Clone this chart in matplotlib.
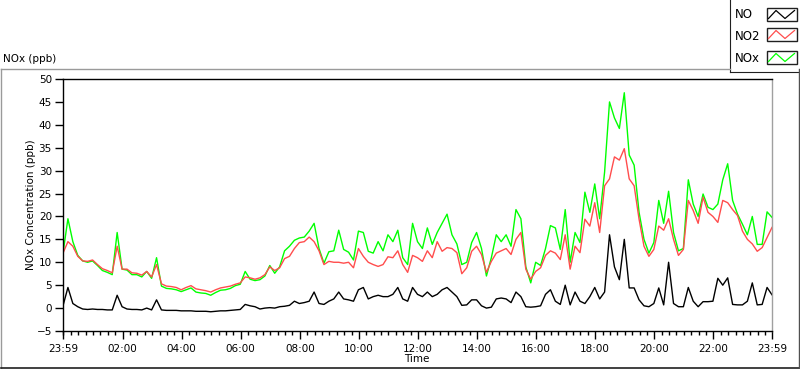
import numpy as np
import matplotlib
matplotlib.use('Agg')
import matplotlib.pyplot as plt
from matplotlib.patches import Rectangle
from matplotlib.lines import Line2D

# ---- data (10-minute samples from 23:59 to 23:59) ----
no2 = [12.0, 14.5, 13.5, 11.3, 10.3, 10.2, 10.5, 9.5, 8.6, 8.2,
       7.7, 13.5, 8.5, 8.5, 7.7, 7.6, 7.2, 8.0, 6.8, 9.5,
       5.3, 4.8, 4.7, 4.5, 4.0, 4.5, 4.9, 4.2, 4.0, 3.8,
       3.5, 4.0, 4.4, 4.6, 4.8, 5.2, 5.5, 6.8, 6.6, 6.3,
       6.6, 7.3, 9.0, 8.2, 8.8, 10.8, 11.3, 13.0, 14.3, 14.5,
       15.5, 14.5, 12.5, 9.5, 10.2, 10.0, 10.0, 9.8, 10.0, 8.8,
       13.0, 11.3, 10.0, 9.5, 9.1, 9.5, 11.2, 11.0, 12.5, 9.5,
       7.8, 11.5, 11.0, 10.2, 12.5, 11.0, 14.5, 12.4, 13.2, 13.0,
       12.1, 7.5, 8.8, 12.4, 13.5, 11.7, 7.8, 10.2, 12.0, 12.5,
       13.0, 11.7, 15.0, 16.5, 8.5, 6.3, 8.0, 8.8, 11.5, 12.5,
       12.0, 10.6, 16.0, 8.5, 13.5, 12.1, 19.4, 17.9, 23.0, 16.5,
       26.7, 28.2, 33.0, 32.3, 34.8, 28.2, 26.7, 19.4, 13.5, 11.3,
       12.8, 17.9, 17.0, 19.5, 15.0, 11.5, 12.8, 23.5, 21.3, 18.5,
       24.2, 20.9, 20.0, 18.7, 23.5, 23.0, 21.5, 20.2, 16.8, 15.0,
       14.0, 12.4, 13.2, 15.4, 17.6]

nox = [12.0, 19.5, 14.5, 11.5, 10.3, 10.0, 10.3, 9.3, 8.2, 7.8,
       7.3, 16.5, 8.5, 8.3, 7.3, 7.3, 6.8, 8.0, 6.5, 11.0,
       4.8, 4.3, 4.2, 4.0, 3.6, 4.0, 4.4, 3.5, 3.3, 3.2,
       2.8, 3.4, 3.9, 4.0, 4.3, 4.9, 5.2, 8.0, 6.3, 6.0,
       6.2, 7.0, 9.3, 7.6, 9.0, 12.5, 13.5, 14.8, 15.3, 15.5,
       16.8, 18.5, 13.0, 9.8, 12.3, 12.5, 17.0, 12.8, 12.2, 10.5,
       16.8, 16.5, 12.4, 12.0, 14.5, 12.5, 16.0, 14.5, 17.0, 11.0,
       9.5, 18.5, 14.5, 13.0, 17.5, 13.9, 16.5, 18.5, 20.5, 16.0,
       14.0, 9.5, 10.0, 14.3, 16.5, 13.0, 7.0, 11.0, 16.0, 14.5,
       16.0, 13.5, 21.5, 19.5, 9.0, 5.5, 10.0, 9.3, 13.0, 18.0,
       17.5, 12.8, 21.5, 10.0, 16.5, 14.3, 25.3, 20.9, 27.1, 19.5,
       29.7, 45.0, 41.5, 39.2, 47.0, 33.4, 31.2, 20.9, 15.0, 12.0,
       14.3, 23.5, 18.5, 25.5, 16.5, 12.5, 13.0, 28.0, 22.7, 20.0,
       24.9, 22.0, 21.5, 22.7, 28.0, 31.5, 23.5, 20.5, 18.3, 16.0,
       20.0, 13.9, 13.9, 21.0, 19.8]

no = [0.5, 4.5, 1.0, 0.3, -0.2, -0.3, -0.2, -0.3, -0.3, -0.4,
      -0.4, 2.8, 0.3, -0.2, -0.3, -0.3, -0.4, 0.0, -0.4, 1.8,
      -0.4, -0.5, -0.5, -0.5, -0.6, -0.6, -0.6, -0.7, -0.7, -0.7,
      -0.8, -0.7, -0.6, -0.6, -0.5, -0.4, -0.3, 0.8, 0.5, 0.3,
      -0.2, 0.0, 0.1, 0.0, 0.3, 0.4, 0.6, 1.5, 1.0, 1.2,
      1.5, 3.5, 1.0, 0.8, 1.5, 2.0, 3.5, 2.0, 1.8, 1.5,
      4.0, 4.5, 2.0, 2.5, 2.8, 2.5, 2.5, 3.0, 4.5, 2.0,
      1.5, 4.5, 3.0, 2.5, 3.5, 2.5, 3.0, 4.0, 4.5, 3.5,
      2.5, 0.6, 0.7, 1.8, 1.8, 0.5, 0.0, 0.2, 2.0, 2.2,
      2.0, 1.2, 3.5, 2.5, 0.3, 0.2, 0.3, 0.5, 3.0, 4.0,
      1.5, 0.8, 5.0, 0.7, 3.5, 1.5, 1.0, 2.5, 4.5, 2.0,
      3.5, 16.0, 9.0, 6.2, 15.0, 4.4, 4.4, 1.8, 0.5, 0.3,
      1.0, 4.4, 0.7, 10.0, 1.0, 0.3, 0.3, 4.5, 1.5, 0.3,
      1.4, 1.4, 1.5, 6.5, 5.0, 6.6, 0.8, 0.7, 0.7, 1.5,
      5.5, 0.7, 0.8, 4.5, 2.9]

series_names = ['NO', 'NO2', 'NOx']
series_colors = ['black', '#ff4d4d', '#00ff00']
tick_labels = ['23:59', '02:00', '04:00', '06:00', '08:00', '10:00', '12:00',
               '14:00', '16:00', '18:00', '20:00', '22:00', '23:59']
tick_minutes = [0, 121, 241, 361, 481, 601, 721, 841, 961, 1081, 1201, 1321, 1440]
sample_step_min = 10

plt.rcParams['font.family'] = ['DejaVu Sans']

W, H = 800, 369
fig = plt.figure(figsize=(W / 100, H / 100), dpi=100)
fig.patch.set_facecolor('white')


def fx(px):
    return px / W


def fy(py):
    return 1 - py / H


# outer panel frame
fig.add_artist(Line2D([fx(0.5), fx(730)], [fy(69), fy(69)], color='#9a9a9a', lw=1.0))
fig.add_artist(Line2D([fx(0.8), fx(0.8)], [fy(69), fy(368)], color='#9a9a9a', lw=1.0))
fig.add_artist(Line2D([fx(0.5), fx(798.5)], [fy(368), fy(368)], color='#202020', lw=1.2))
fig.add_artist(Line2D([fx(798.5), fx(798.5)], [fy(69), fy(368)], color='#505050', lw=1.0))

# main plot
ax = fig.add_axes([fx(63), fy(331), fx(772) - fx(63), fy(79) - fy(331)])
t = np.arange(len(no2)) * sample_step_min
ax.plot(t, nox, color=series_colors[2], lw=1.0)
ax.plot(t, no2, color=series_colors[1], lw=1.0)
ax.plot(t, no, color=series_colors[0], lw=1.0)

ax.set_xlim(0, 1440)
ax.set_ylim(-5, 50)
ax.set_yticks(np.arange(-5, 51, 5))
ax.set_xticks(tick_minutes)
ax.set_xticklabels(tick_labels)
minor = [m for m in range(1, 1440, 15) if m not in tick_minutes]
ax.set_xticks(minor, minor=True)
ax.tick_params(axis='both', which='major', direction='out', length=6, width=1,
               labelsize=7.5, pad=2, colors='black')
ax.tick_params(axis='x', which='minor', direction='out', length=3, width=1)
ax.tick_params(axis='x', which='major', pad=3)
for s in ['left', 'top', 'bottom']:
    ax.spines[s].set_color('black')
    ax.spines[s].set_linewidth(1.0)
ax.spines['right'].set_color('#a0a0a0')
ax.spines['right'].set_linewidth(1.0)

fig.text(fx(31), fy(205), 'NOx Concentration (ppb)', rotation=90,
         ha='center', va='center', fontsize=7.5)
fig.text(fx(417), fy(359), 'Time', ha='center', va='center', fontsize=7.5)
fig.text(fx(3), fy(59), 'NOx (ppb)', ha='left', va='center', fontsize=7.5)

# legend panel
lax = fig.add_axes([fx(730), fy(72), fx(800) - fx(730), fy(0) - fy(72)])
lax.set_xlim(0, 70)
lax.set_ylim(72, 0)
lax.set_xticks([])
lax.set_yticks([])
lax.set_facecolor('white')
lax.spines['top'].set_visible(False)
lax.spines['right'].set_visible(False)
lax.spines['left'].set_color('#202020')
lax.spines['bottom'].set_color('#202020')
text_y = [14, 36, 59]
box_top = [8, 28, 51]
for name, col, ty, bt in zip(series_names, series_colors, text_y, box_top):
    lax.text(4.5, ty, name, ha='left', va='center', fontsize=8.5)
    lax.add_patch(Rectangle((36.5, bt), 30, 13, facecolor='white',
                            edgecolor='#202020', lw=1.0))
    zx = [38.5, 46, 55, 64.5]
    zy = [bt + 10.5, bt + 2.5, bt + 10.5, bt + 2.5]
    lax.plot(zx, zy, color=col, lw=0.9)

fig.savefig('out.png', dpi=100, facecolor='white')
